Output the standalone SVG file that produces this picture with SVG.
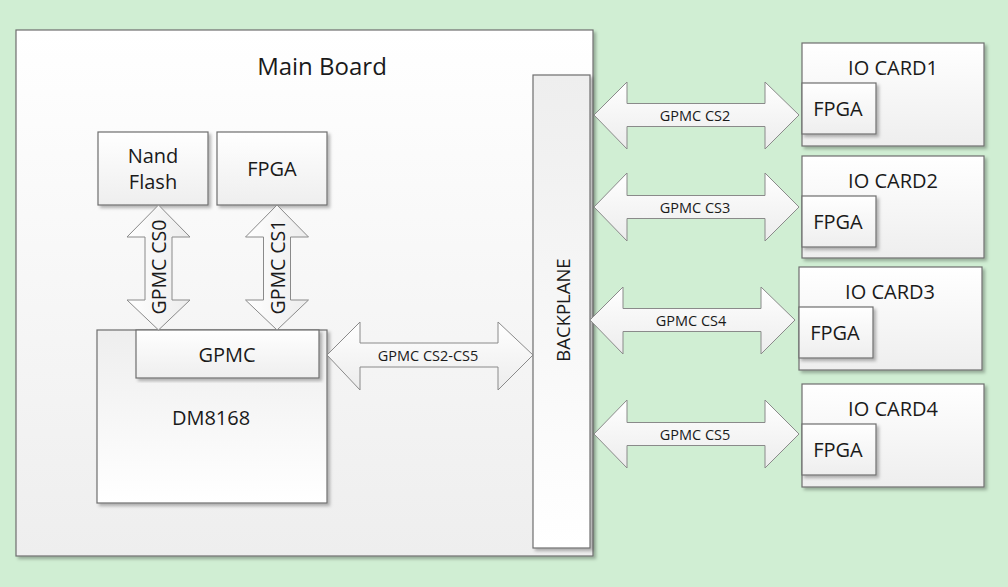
<svg xmlns="http://www.w3.org/2000/svg" width="1008" height="587" viewBox="0 0 1008 587">
<defs>
<linearGradient id="gBox" x1="0" y1="0" x2="0" y2="1"><stop offset="0" stop-color="#ffffff"/><stop offset="1" stop-color="#eeeeee"/></linearGradient>
<linearGradient id="gRev" x1="0" y1="0" x2="0" y2="1"><stop offset="0" stop-color="#eeeeee"/><stop offset="1" stop-color="#ffffff"/></linearGradient>
<linearGradient id="gArrH" x1="0" y1="0" x2="0" y2="1"><stop offset="0" stop-color="#ffffff"/><stop offset="1" stop-color="#ececec"/></linearGradient>
<linearGradient id="gArrV" x1="0" y1="0" x2="1" y2="0"><stop offset="0" stop-color="#ffffff"/><stop offset="1" stop-color="#ececec"/></linearGradient>
<filter id="sh" x="-5%" y="-5%" width="115%" height="115%"><feDropShadow dx="2.5" dy="2.5" stdDeviation="1.5" flood-color="#000" flood-opacity="0.28"/></filter>
</defs>
<style>
.box{fill:url(#gBox);stroke:#6e6e6e;stroke-width:1.2;filter:url(#sh)}
.rev{fill:url(#gRev);stroke:#6e6e6e;stroke-width:1.2;filter:url(#sh)}
.arrH{fill:url(#gArrH);stroke:#8a8a8a;stroke-width:1}
.arrV{fill:url(#gArrV);stroke:#8a8a8a;stroke-width:1}
text{font-family:"Open Sans","Noto Sans","Liberation Sans",sans-serif;fill:#1a1a1a;text-anchor:middle;dominant-baseline:central}
.t24{font-size:24px}.t20{font-size:20px}.t19{font-size:19.5px}.t13{font-size:14.5px}.t14{font-size:18.5px}
</style>
<rect x="0" y="0" width="1008" height="587" fill="#d0eed3"/>
<g id="main-board"><rect class="box" x="16" y="30" width="577" height="526"/><text class="t24" x="322" y="65">Main Board</text></g>
<g id="nand-flash"><rect class="box" x="98" y="132" width="110" height="73"/><text class="t20" x="153" y="155">Nand</text><text class="t20" x="153" y="181">Flash</text></g>
<g id="fpga-main"><rect class="box" x="217" y="132" width="110" height="73"/><text class="t20" x="272" y="168">FPGA</text></g>
<g id="dm8168"><rect class="rev" x="97" y="330" width="230" height="173"/><text class="t20" x="211" y="417">DM8168</text></g>
<g id="gpmc"><rect class="box" x="136" y="330" width="183" height="48"/><text class="t20" x="227" y="354">GPMC</text></g>
<g id="backplane"><rect class="rev" x="533" y="75" width="57" height="473"/><text class="t14" x="562" y="310" transform="rotate(-90 562 310)">BACKPLANE</text></g>
<g id="io-card1"><rect class="box" x="802" y="43" width="182" height="103"/><text class="t20" x="893" y="67">IO CARD1</text><rect class="box" x="802" y="83" width="74" height="51"/><text class="t20" x="838" y="108">FPGA</text></g>
<g id="io-card2"><rect class="box" x="802" y="156" width="182" height="102"/><text class="t20" x="893" y="180">IO CARD2</text><rect class="box" x="802" y="196" width="74" height="51"/><text class="t20" x="838" y="221">FPGA</text></g>
<g id="io-card3"><rect class="box" x="799" y="267" width="183" height="103"/><text class="t20" x="890" y="291">IO CARD3</text><rect class="box" x="799" y="307" width="74" height="51"/><text class="t20" x="835" y="332">FPGA</text></g>
<g id="io-card4"><rect class="box" x="802" y="384" width="182" height="103"/><text class="t20" x="893" y="408">IO CARD4</text><rect class="box" x="802" y="424" width="74" height="51"/><text class="t20" x="838" y="449">FPGA</text></g>
<g id="connectors">
<path class="arrV" d="M158.5,205 L190,237 L172,237 L172,300 L190,300 L158.5,330 L127,300 L145,300 L145,237 L127,237 Z"/>
<text class="t19" x="158.5" y="267" transform="rotate(-90 158.5 267)">GPMC CS0</text>
<path class="arrV" d="M277,205 L308.5,237 L290.5,237 L290.5,300 L308.5,300 L277,330 L245.5,300 L263.5,300 L263.5,237 L245.5,237 Z"/>
<text class="t19" x="277" y="267" transform="rotate(-90 277 267)">GPMC CS1</text>
<path class="arrH" d="M327,355 L360,322 L360,343 L498,343 L498,322 L533,355 L498,390 L498,367 L360,367 L360,390 Z"/>
<text class="t13" x="428" y="355">GPMC CS2-CS5</text>
<path class="arrH" d="M594,115 L627,82 L627,103.5 L765,103.5 L765,82 L799,115 L765,149 L765,126.5 L627,126.5 L627,149 Z"/>
<text class="t13" x="695" y="115">GPMC CS2</text>
<path class="arrH" d="M594,207 L627,173 L627,195.5 L765,195.5 L765,173 L799,207 L765,241 L765,218.5 L627,218.5 L627,241 Z"/>
<text class="t13" x="695" y="207">GPMC CS3</text>
<path class="arrH" d="M590,320 L623,287 L623,308.5 L761,308.5 L761,287 L795,320 L761,354 L761,331.5 L623,331.5 L623,354 Z"/>
<text class="t13" x="691" y="320">GPMC CS4</text>
<path class="arrH" d="M594,434 L627,400 L627,422.5 L765,422.5 L765,400 L799,434 L765,468 L765,445.5 L627,445.5 L627,468 Z"/>
<text class="t13" x="695" y="434">GPMC CS5</text>
</g>
</svg>
